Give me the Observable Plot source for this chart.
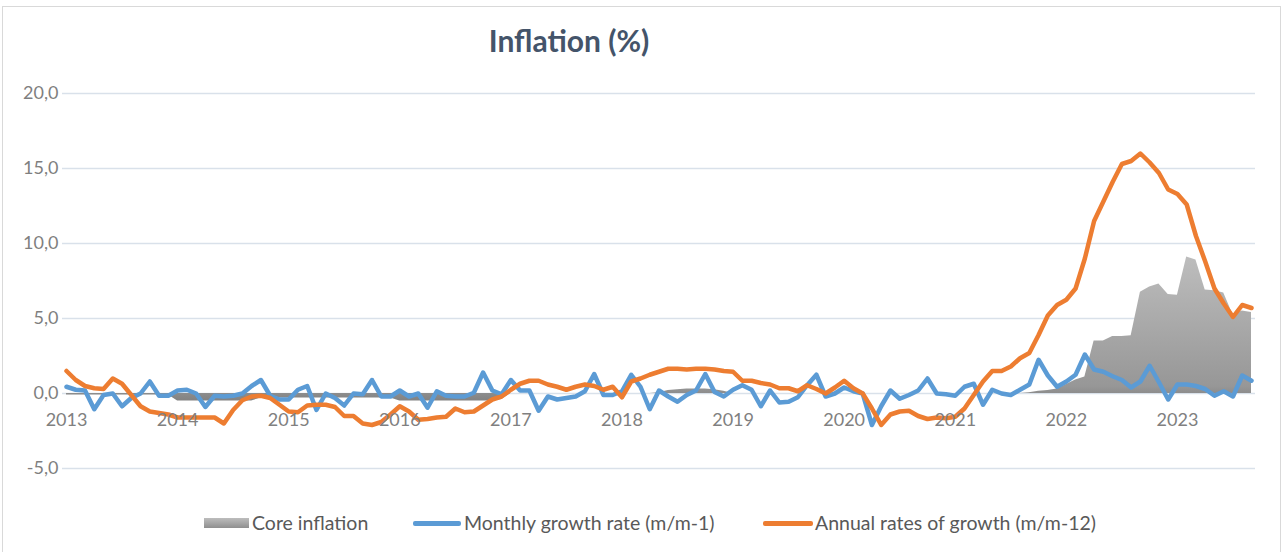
<!DOCTYPE html>
<html>
<head>
<meta charset="utf-8">
<script src="https://cdn.jsdelivr.net/npm/d3@7"></script>
<script src="https://cdn.jsdelivr.net/npm/@observablehq/plot@0.6"></script>
<style>
  body { margin: 0; background: #fff; font-family: Lato, "Open Sans", sans-serif; }
  #wrap { position: relative; width: 1286px; height: 552px; overflow: hidden; }
  #frame { position: absolute; left: 2px; top: 6px; width: 1279px; height: 580px; border: 1.5px solid #d9d9d9; box-sizing: border-box; pointer-events: none; }
  #title { box-sizing: border-box; height: 62px; padding-top: 18px; line-height: 44px; width: 1138px; text-align: center;
           font-weight: 700; font-size: 30px; color: #44546a; }
  #chart svg { display: block; }
  #legend { position: relative; height: 60px; }
  .item { position: absolute; top: 0; height: 60px; }
  .sw { position: absolute; }
  .lt { position: absolute; top: 19px; font-size: 19.5px; line-height: 24px; color: #595959; white-space: nowrap; }
</style>
</head>
<body>
<svg width="0" height="0" style="position:absolute">
  <defs>
    <linearGradient id="coreGrad" x1="0" y1="0" x2="0" y2="1">
      <stop offset="0" stop-color="#bdbdbd"/>
      <stop offset="0.9" stop-color="#979797"/>
      <stop offset="1" stop-color="#828282"/>
    </linearGradient>
  </defs>
</svg>
<div id="wrap">
  <div id="title">Inflation (%)</div>
  <div id="chart"></div>
  <div id="legend"></div>
  <div id="frame"></div>
</div>
<script>
// ---- Data (monthly, Jan 2013 – Sep 2023) ----
const startYear = 2013;
const yearLabels = [2013, 2014, 2015, 2016, 2017, 2018, 2019, 2020, 2021, 2022, 2023];
const yTicks = [-5, 0, 5, 10, 15, 20];
const seriesNames = ["Core inflation", "Monthly growth rate (m/m-1)", "Annual rates of growth (m/m-12)"];

const coreInflation = [
  -0.1, -0.1, -0.1, -0.1, -0.1, -0.1, -0.1, -0.1, -0.1, -0.1, -0.1, -0.1,
  -0.5, -0.5, -0.5, -0.5, -0.5, -0.5, -0.5, -0.5, -0.5, -0.3, -0.3, -0.3,
  -0.3, -0.3, -0.3, -0.3, -0.3, -0.3, -0.3, -0.3, -0.3, -0.3, -0.3, -0.3,
  -0.5, -0.5, -0.5, -0.5, -0.5, -0.5, -0.5, -0.5, -0.5, -0.5, -0.5, -0.4,
  0, 0, 0, 0, 0, 0, 0, 0, 0, 0, 0, 0,
  0, 0, 0, 0, 0.05, 0.2, 0.25, 0.3, 0.3, 0.3, 0.25, 0.15,
  0, 0, 0, 0, 0, 0, 0, 0, 0, 0, 0, 0,
  0, 0, 0, 0, 0, 0, 0, 0, 0, 0, 0, 0,
  0, 0, 0, 0, 0, 0, 0, 0, 0.05, 0.15, 0.2, 0.3,
  0.6, 0.9, 1.1, 3.5, 3.5, 3.8, 3.8, 3.85, 6.75, 7.1, 7.3, 6.6,
  6.55, 9.1, 8.9, 6.9, 6.85, 6.7, 5.25, 5.5, 5.4
];
const monthlyRate = [
  0.45, 0.25, 0.2, -1.05, -0.1, 0.0, -0.85, -0.3, 0.0, 0.8, -0.15, -0.15,
  0.2, 0.25, 0.0, -0.9, -0.15, -0.2, -0.15, 0.0, 0.5, 0.9, -0.15, -0.4,
  -0.4, 0.25, 0.5, -1.1, 0.0, -0.3, -0.8, 0.0, -0.05, 0.9, -0.2, -0.2,
  0.2, -0.2, 0.0, -0.95, 0.15, -0.15, -0.2, -0.2, 0.05, 1.4, 0.2, -0.05,
  0.9, 0.2, 0.2, -1.15, -0.2, -0.4, -0.3, -0.2, 0.15, 1.3, -0.1, -0.1,
  0.15, 1.25, 0.45, -1.05, 0.2, -0.2, -0.55, -0.1, 0.2, 1.3, 0.1, -0.2,
  0.25, 0.55, 0.25, -0.85, 0.2, -0.6, -0.55, -0.25, 0.55, 1.25, -0.2, 0.0,
  0.4, 0.15, 0.0, -2.1, -0.85, 0.2, -0.35, -0.1, 0.2, 1.0, 0.0, -0.05,
  -0.15, 0.45, 0.65, -0.75, 0.25, 0.0, -0.1, 0.25, 0.6, 2.25, 1.2, 0.45,
  0.8, 1.25, 2.6, 1.6, 1.45, 1.15, 0.9, 0.4, 0.8, 1.85, 0.75, -0.4,
  0.6, 0.6, 0.5, 0.3, -0.15, 0.15, -0.2, 1.2, 0.85
];
const annualRate = [
  1.5, 0.9, 0.5, 0.35, 0.3, 1.0, 0.65, -0.1, -0.85, -1.2, -1.3, -1.4,
  -1.6, -1.6, -1.6, -1.6, -1.6, -2.0, -1.1, -0.45, -0.2, -0.15, -0.3, -0.75,
  -1.2, -1.25, -0.8, -0.75, -0.75, -0.9, -1.5, -1.5, -2.0, -2.1, -1.9, -1.4,
  -0.85, -1.2, -1.75, -1.7, -1.6, -1.55, -1.0, -1.25, -1.2, -0.8, -0.4, -0.2,
  0.25, 0.65, 0.85, 0.85, 0.6, 0.45, 0.25, 0.45, 0.6, 0.5, 0.25, 0.45,
  -0.25, 0.8, 1.0, 1.25, 1.45, 1.65, 1.65, 1.6, 1.65, 1.65, 1.6, 1.5,
  1.45, 0.85, 0.85, 0.7, 0.6, 0.35, 0.35, 0.15, 0.55, 0.3, 0.0, 0.4,
  0.85, 0.35, 0.0, -1.0, -2.1, -1.4, -1.2, -1.15, -1.5, -1.7, -1.6, -1.65,
  -1.55, -1.0, -0.1, 0.8, 1.5, 1.5, 1.8, 2.35, 2.7, 3.9, 5.2, 5.9,
  6.25, 7.0, 9.0, 11.5, 12.8, 14.1, 15.3, 15.5, 16.0, 15.4, 14.7, 13.6,
  13.3, 12.6, 10.5, 8.8, 7.0, 6.0, 5.1, 5.9, 5.7
];

const colors = { core: "url(#coreGrad)", monthly: "#5b9bd5", annual: "#ed7d31" };

// Table built from the arrays
const rows = coreInflation.map((c, i) => ({
  i, core: c, monthly: monthlyRate[i], annual: annualRate[i]
}));
const yearTicks = yearLabels.map(y => ({ i: (y - startYear) * 12, label: String(y) }));

const fmt = d => d.toFixed(1).replace(".", ",");

const chart = Plot.plot({
  width: 1286,
  height: 430,
  marginLeft: 62,
  marginRight: 31,
  marginTop: 31,
  marginBottom: 24,
  insetLeft: 4,
  insetRight: 4,
  style: { fontFamily: "Lato, 'Open Sans', sans-serif", background: "transparent" },
  x: { type: "linear", domain: [0, rows.length - 1], axis: null },
  y: { domain: [-5, 20], axis: null },
  marks: [
    Plot.gridY(yTicks, { stroke: "#d9e1ea", strokeOpacity: 1, strokeWidth: 1.5 }),
    Plot.axisY(yTicks, { tickSize: 0, tickPadding: 4, tickFormat: fmt, fontSize: 18, color: "#7f7f7f", label: null }),
    Plot.areaY(rows, { x: "i", y: "core", fill: colors.core }),
    Plot.line(rows, { x: "i", y: "monthly", stroke: colors.monthly, strokeWidth: 4.5, strokeLinejoin: "round", strokeLinecap: "round" }),
    Plot.line(rows, { x: "i", y: "annual", stroke: colors.annual, strokeWidth: 4.5, strokeLinejoin: "round", strokeLinecap: "round" }),
    Plot.text(yearTicks, { x: "i", y: () => 0, dy: 27, text: "label", fontSize: 18, fill: "#808080", textAnchor: "middle" })
  ]
});
document.getElementById("chart").appendChild(chart);

// Legend
const legend = document.getElementById("legend");
const items = [
  { name: seriesNames[0], left: 204, textLeft: 48, sw: "width:45px;height:10px;top:26px;background:linear-gradient(#bdbdbd,#8f8f8f);" },
  { name: seriesNames[1], left: 413, textLeft: 51, sw: "width:48px;height:5px;top:29px;border-radius:2px;background:" + colors.monthly + ";" },
  { name: seriesNames[2], left: 763, textLeft: 52, sw: "width:50px;height:5px;top:29px;border-radius:2px;background:" + colors.annual + ";" }
];
items.forEach(it => {
  const d = document.createElement("div");
  d.className = "item";
  d.style.left = it.left + "px";
  d.innerHTML = `<div class="sw" style="left:0;${it.sw}"></div><div class="lt" style="left:${it.textLeft}px">${it.name}</div>`;
  legend.appendChild(d);
});
</script>
</body>
</html>
